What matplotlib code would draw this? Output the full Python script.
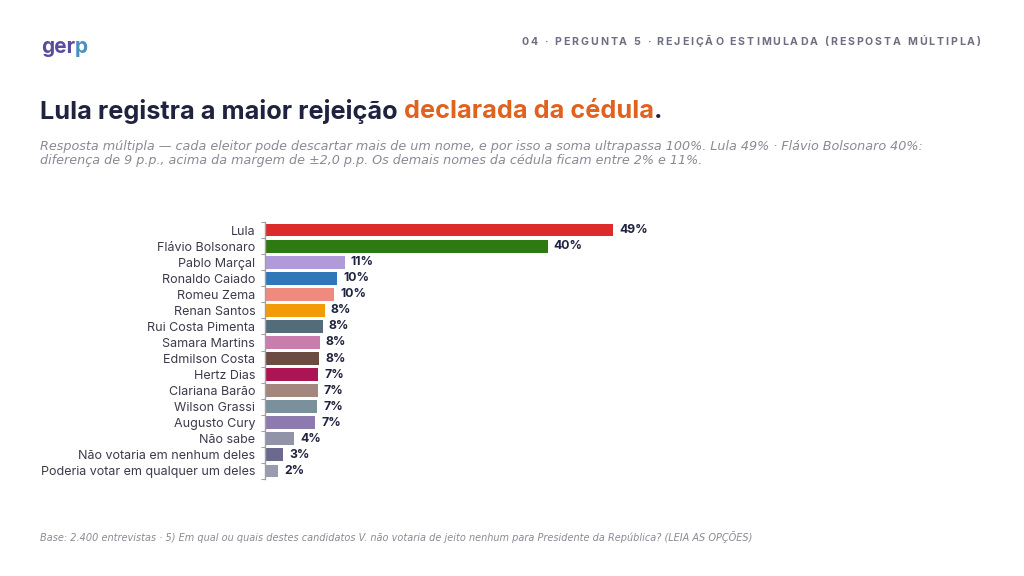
import matplotlib
matplotlib.use("Agg")
import matplotlib.pyplot as plt
import numpy as np

# data
names = ["Lula", "Flávio Bolsonaro", "Pablo Marçal", "Ronaldo Caiado", "Romeu Zema",
         "Renan Santos", "Rui Costa Pimenta", "Samara Martins", "Edmilson Costa",
         "Hertz Dias", "Clariana Barão", "Wilson Grassi", "Augusto Cury", "Não sabe",
         "Não votaria em nenhum deles", "Poderia votar em qualquer um deles"]
values = [49.0, 39.8, 11.2, 10.1, 9.7, 8.4, 8.1, 7.7, 7.6, 7.5, 7.4, 7.3, 7.1, 4.1, 2.6, 1.8]
labels = ["49%", "40%", "11%", "10%", "10%", "8%", "8%", "8%", "8%",
          "7%", "7%", "7%", "7%", "4%", "3%", "2%"]
colors = ["#dc2b2b", "#2e7a12", "#b09ad9", "#2f77b8", "#ee8a7e", "#f39b06", "#536c79",
          "#c97dac", "#6c4b41", "#ac1553", "#a3877f", "#7a909b", "#8d7bb0", "#9194a8",
          "#6b6a8d", "#999cb0"]

SANS = ["Inter", "DejaVu Sans"]
ITAL = ["DejaVu Sans"]
NAVY = "#1f2340"

fig = plt.figure(figsize=(10.24, 5.76), dpi=100)
W, H = 1024, 576

# bar chart area in pixel coords
ax = fig.add_axes([265 / W, 1 - 479 / H, 710 / W, 257 / H])
y = np.arange(len(names))
ax.barh(y, values, height=0.8, color=colors)
ax.set_xlim(0, 100)
ax.set_ylim(len(names) - 0.5, -0.5)
ax.set_yticks(y)
ax.set_yticklabels(names, fontsize=9, color="#3b3b4b", family=SANS)
ax.tick_params(axis="y", which="major", length=0, pad=7)
ax.set_yticks(np.arange(-0.5, len(names)), minor=True)
ax.tick_params(axis="y", which="minor", length=3, color="#a0a0a8", width=0.8)
ax.set_xticks([])
for s in ["top", "right", "bottom"]:
    ax.spines[s].set_visible(False)
ax.spines["left"].set_color("#a0a0a8")
ax.spines["left"].set_linewidth(1)

for yi, v, lab in zip(y, values, labels):
    ax.annotate(lab, (v, yi), xytext=(4.5, 0), textcoords="offset points",
                ha="left", va="center", fontsize=8.8, fontweight="bold",
                color=NAVY, family=SANS)

fig.canvas.draw()
r = fig.canvas.get_renderer()


def put_after(prev, s, **kw):
    bb = prev.get_window_extent(r)
    return fig.text(bb.x1 / W, prev.get_position()[1], s, **kw)


def ink_width(s, kw):
    t = fig.text(0, 0, s, **kw)
    w = t.get_window_extent(r).width
    t.remove()
    return w


# logo
g = fig.text(41 / W, 1 - 47 / H, "ger", fontsize=15, fontweight="bold", color="#5b4b9f",
             family=SANS, va="center", ha="left")
put_after(g, "p", fontsize=15, fontweight="bold", color="#4a8fc0",
          family=SANS, va="center", ha="left")

# header with letter spacing: place each glyph at its natural spot plus tracking
header = "04 · PERGUNTA 5 · REJEIÇÃO ESTIMULADA (RESPOSTA MÚLTIPLA)"
hkw = dict(fontsize=7.6, fontweight="bold", color="#6e6e82", family=SANS,
           ha="left", va="center")
track = 1.95
starts = []
for i, ch in enumerate(header):
    if ch == " ":
        starts.append(None)
        continue
    starts.append(ink_width(header[:i + 1], hkw) - ink_width(ch, hkw) + track * i)
total = ink_width(header, hkw) + track * (len(header) - 1)
x0 = 981 - total
for ch, s in zip(header, starts):
    if s is not None:
        fig.text((x0 + s) / W, 1 - 42 / H, ch, **hkw)

# title, two colours
tkw = dict(fontsize=18.2, fontweight="bold", family=SANS, va="center", ha="left")
t1 = fig.text(40 / W, 1 - 111 / H, "Lula registra a maior rejeição ", color=NAVY, **tkw)
t2 = put_after(t1, "declarada da cédula", color="#e0621f", **tkw)
put_after(t2, ".", color=NAVY, **tkw)

# subtitle
sub = ("Resposta múltipla — cada eleitor pode descartar mais de um nome, e por isso a soma "
       "ultrapassa 100%. Lula 49% · Flávio Bolsonaro 40%:\n"
       "diferença de 9 p.p., acima da margem de ±2,0 p.p. Os demais nomes da cédula "
       "ficam entre 2% e 11%.")
fig.text(40 / W, 1 - 140 / H, sub, fontsize=9.2, style="italic", color="#8a8a96",
         family=ITAL, va="top", ha="left", linespacing=1.1)

# footer
foot = ("Base: 2.400 entrevistas · 5) Em qual ou quais destes candidatos V. não votaria "
        "de jeito nenhum para Presidente da República? (LEIA AS OPÇÕES)")
fig.text(40 / W, 1 - 537 / H, foot, fontsize=7.0, style="italic", color="#8a8a96",
         family=ITAL, va="center", ha="left")

fig.savefig("out.png", dpi=100)
